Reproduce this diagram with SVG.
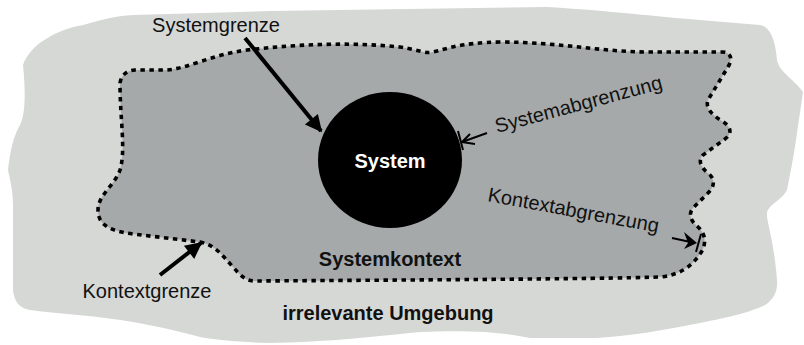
<svg xmlns="http://www.w3.org/2000/svg" width="804" height="345" viewBox="0 0 804 345">
<defs>
<style>
.lbl{font-family:"Liberation Sans",Arial,sans-serif;font-size:20px;fill:#111}
.bold{font-family:"Liberation Sans",Arial,sans-serif;font-weight:bold;font-size:20px;fill:#111}
.thick{stroke:#000;stroke-width:4;fill:none}
.thin{stroke:#000;stroke-width:2;fill:none}
</style>
<marker id="bigHead" viewBox="0 0 10 10" refX="9" refY="5" markerWidth="5" markerHeight="4.2" markerUnits="strokeWidth" orient="auto">
<path d="M0,0 L10,5 L0,10 Z" fill="#000"/>
</marker>
</defs>
<rect width="804" height="345" fill="#fff"/>
<g id="umgebung">
<path d="M23,65 C30,45 55,30 83,25 C100,20 115,16 133,15 L270,11 L547,7 C600,10 640,15 700,20 L760,25 C772,27 776,45 777,60 C779,72 795,80 803,92 L797,133 C794,155 790,175 787,190 C782,200 768,205 767,213 C766,220 774,240 777,280 C778,292 773,300 765,305 C750,312 735,316 700,323 C665,330 630,336 597,338 L530,338 C500,332 470,330 420,332 C380,336 330,342 267,343 C240,342 215,340 200,337 C175,330 150,325 133,322 C100,316 60,314 30,310 C18,308 14,300 13,290 L13,205 C13,190 10,180 8,170 C10,150 14,135 20,125 C25,115 26,95 23,65 Z" fill="#d6d8d6"/>
<text class="bold" x="388" y="320" text-anchor="middle">irrelevante Umgebung</text>
</g>
<g id="systemkontext">
<path d="M120,83 Q122,71 135,70 L167,70 C190,68 210,55 247,50 C300,44 350,42 400,47 C420,50 425,54 433,52 C450,48 460,43 500,42 C560,42 600,52 650,52 L722,52 C731,52 733,59 728,67 L708,100 C705,108 712,115 722,121 C732,127 732,134 725,139 L703,155 C698,160 700,167 709,174 C716,180 714,188 707,194 L694,207 C688,213 690,220 697,226 C706,233 707,245 700,254 C692,266 680,275 660,277 C600,279 400,280 255,281 C245,281 240,275 233,267 C222,255 215,245 200,242 L133,234 C110,231 98,225 98,210 C98,195 115,185 120,170 C126,150 120,120 120,83 Z" fill="#a6a9aa" stroke="#000" stroke-width="3.6" stroke-dasharray="4.5 4.5"/>
<text class="bold" x="390" y="266" text-anchor="middle">Systemkontext</text>
</g>
<g id="system">
<ellipse cx="390" cy="160" rx="72" ry="68" fill="#000"/>
<text class="bold" x="390" y="168" text-anchor="middle" font-size="19" style="fill:#fff">System</text>
</g>
<g id="labels">
<text class="lbl" x="216" y="32" text-anchor="middle" font-size="19.5">Systemgrenze</text>
<text class="lbl" x="147" y="298" text-anchor="middle">Kontextgrenze</text>
<text class="lbl" transform="translate(497,133) rotate(-15)">Systemabgrenzung</text>
<text class="lbl" transform="translate(487,201) rotate(10.5)">Kontextabgrenzung</text>
</g>
<g id="connectors">
<line class="thick" x1="245" y1="38" x2="321" y2="131" marker-end="url(#bigHead)"/>
<line class="thick" x1="160" y1="275" x2="201" y2="243" marker-end="url(#bigHead)"/>
<line class="thin" x1="487" y1="133" x2="462" y2="142"/>
<polyline class="thin" points="470,134 462,142 475,144"/>
<line class="thin" x1="458" y1="131" x2="463" y2="150"/>
<line class="thin" x1="672" y1="238" x2="695" y2="243"/>
<path d="M684,232 L697,243 L684,249 L688,243 Z" fill="#000"/>
<line class="thin" x1="701" y1="234" x2="696" y2="252"/>
</g>
</svg>
